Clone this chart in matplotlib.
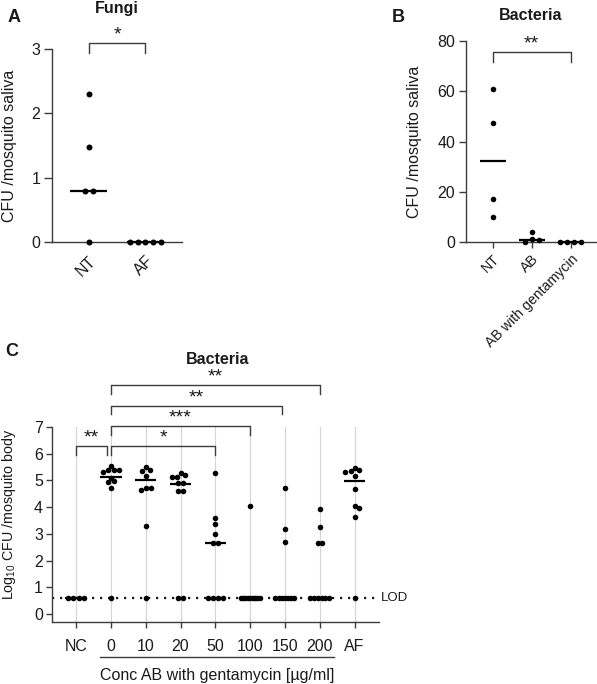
import matplotlib.pyplot as plt
import numpy as np

plt.rcParams["font.family"] = ["Liberation Sans", "DejaVu Sans"]
plt.rcParams["mathtext.fontset"] = "custom"
plt.rcParams["mathtext.rm"] = "Liberation Sans"

# --- data ---
FUNGI_GROUPS = ["NT", "AF"]
FUNGI_NT = [2.3, 1.47, 0.8, 0.8, 0.0]
FUNGI_AF = [0.0, 0.0, 0.0, 0.0, 0.0]
FUNGI_MEDIAN = [0.8, 0.0]

SALIVA_GROUPS = ["NT", "AB", "AB with gentamycin"]
SALIVA_NT = [61.0, 47.3, 17.1, 10.0]
SALIVA_AB = [4.1, 1.1, 0.8, 0.0]
SALIVA_ABG = [0.0, 0.0, 0.0, 0.0]
SALIVA_MEDIAN = [32.2, 0.9, 0.0]

LOD = 0.6
BODY_GROUPS = ["NC", "0", "10", "20", "50", "100", "150", "200", "AF"]
BODY_NC = [LOD] * 4
BODY_0 = [5.55, 5.40, 5.40, 5.38, 5.31, 5.10, 4.96, 4.93, 4.71, LOD]
BODY_10 = [5.50, 5.38, 5.36, 5.18, 4.73, 4.71, 4.64, 3.30, LOD]
BODY_20 = [5.27, 5.21, 5.12, 5.12, 4.92, 4.92, 4.62, 4.62, LOD, LOD]
BODY_50 = [5.27, 3.61, 3.37, 2.99, 2.67, 2.67, LOD, LOD, LOD, LOD]
BODY_100 = [4.03] + [LOD] * 9
BODY_150 = [4.73, 3.17, 2.70] + [LOD] * 7
BODY_200 = [3.92, 3.27, 2.67, 2.67] + [LOD] * 6
BODY_AF = [5.48, 5.39, 5.36, 5.33, 5.17, 4.67, 4.04, 3.96, 3.64, LOD]
BODY_MEDIAN = [LOD, 5.14, 5.0, 4.88, 2.67, LOD, LOD, LOD, 4.98]

INK = "#1a1a1a"
LINE = "#3c3c3c"


def swarm(values, px_per_unit, spacing, max_px):
    """Pixel x offsets for a dot column; equal values are laid out as a centred row."""
    vals = np.asarray(values, float)
    out = np.zeros(len(vals))
    placed = []
    for u in sorted(set(vals.tolist()), reverse=True):
        idx = np.where(vals == u)[0]
        row = (np.arange(len(idx)) - (len(idx) - 1) / 2) * spacing
        y = u * px_per_unit
        cands = [0.0]
        for px, py in placed:
            dy = abs(py - y)
            if dy < spacing:
                dx = np.sqrt(spacing**2 - dy**2)
                for r in row:
                    cands += [px + dx - r, px - dx - r]
        cands.sort(key=abs)
        for c in cands:
            if all(np.hypot(c + r - px, y - py) >= spacing - 1e-6 for r in row for px, py in placed):
                break
        for i, r in zip(idx, row):
            out[i] = c + r
            placed.append((c + r, y))
    m = np.abs(out).max()
    if m > max_px:
        out *= max_px / m
    return out


def dots(ax, groups, medians, ms, spacing, max_px, half_width):
    x0, x1 = ax.get_xlim()
    y0, y1 = ax.get_ylim()
    px_x = ax.bbox.width / (x1 - x0)
    px_y = ax.bbox.height / (y1 - y0)
    for i, vals in enumerate(groups):
        off = swarm(vals, px_y, spacing, max_px) / px_x
        ax.plot(i + off, vals, "o", ms=ms, color="black", mec="none", clip_on=False, zorder=4)
        ax.plot([i - half_width, i + half_width], [medians[i]] * 2, color="black", lw=1.6,
                solid_capstyle="butt", clip_on=False, zorder=3)


def bracket(ax, x1, x2, y, drop, text, fs=14):
    ax.plot([x1, x1, x2, x2], [y - drop, y, y, y - drop], color=LINE, lw=1.0, clip_on=False)
    ax.annotate(text, xy=((x1 + x2) / 2, y), xytext=(0, -0.5), textcoords="offset points",
                ha="center", va="bottom", fontsize=fs, color=INK, annotation_clip=False)


def style(ax, ylen):
    for side in ("top", "right"):
        ax.spines[side].set_visible(False)
    for side in ("left", "bottom"):
        ax.spines[side].set_color(LINE)
        ax.spines[side].set_linewidth(1.0)
    ax.tick_params(axis="y", length=ylen, width=1.0, color=LINE, labelsize=11.5, labelcolor=INK, pad=2.5)
    ax.tick_params(axis="x", length=4, width=1.0, color=LINE, labelsize=11.5, labelcolor=INK, pad=3)


W, H = 597, 684
fig = plt.figure(figsize=(W / 100, H / 100), dpi=100)


def rect(l, r, t, b):
    return [l / W, 1 - b / H, (r - l) / W, (b - t) / H]


# --- A: fungi ---
ax = fig.add_axes(rect(52.3, 182.3, 49, 242))
ax.set_xlim(-0.64, 1.65)
ax.set_ylim(0, 3)
ax.set_yticks([0, 1, 2, 3])
ax.set_xticks(range(len(FUNGI_GROUPS)))
ax.set_xticklabels(FUNGI_GROUPS, rotation=45, ha="right", va="top", rotation_mode="anchor")
style(ax, 6)
ax.tick_params(axis="x", length=0, pad=8)
ax.set_ylabel("CFU /mosquito saliva", fontsize=11.5, color=INK)
ax.yaxis.set_label_coords(-0.27, 0.5)
dots(ax, [FUNGI_NT, FUNGI_AF], FUNGI_MEDIAN, 4.3, 7.8, 20, 0.32)
bracket(ax, 0, 1, 3.09, 0.15, "*")
fig.text(117 / W, 1 - 1.5 / H, "Fungi", ha="center", va="top", fontsize=11.5, fontweight="bold", color=INK)
fig.text(14.5 / W, 1 - 17 / H, "A", ha="center", va="center", fontsize=13, fontweight="bold", color=INK)

# --- B: bacteria in saliva ---
ax = fig.add_axes(rect(465.7, 597.6, 41, 242))
ax.set_xlim(-0.69, 2.69)
ax.set_ylim(0, 80)
ax.set_yticks([0, 20, 40, 60, 80])
ax.set_xticks(range(len(SALIVA_GROUPS)))
ax.set_xticklabels(SALIVA_GROUPS, rotation=45, ha="right", va="top", rotation_mode="anchor")
style(ax, 5)
ax.tick_params(axis="x", labelsize=10.2)
ax.set_ylabel("CFU /mosquito saliva", fontsize=11.5, color=INK)
ax.yaxis.set_label_coords(-0.33, 0.5)
dots(ax, [SALIVA_NT, SALIVA_AB, SALIVA_ABG], SALIVA_MEDIAN, 4.0, 7.0, 20, 0.33)
bracket(ax, 0, 2, 75.8, 4.0, "**")
fig.text(531 / W, 1 - 15 / H, "Bacteria", ha="center", va="center", fontsize=11.5, fontweight="bold", color=INK)
fig.text(398 / W, 1 - 18 / H, "B", ha="center", va="center", fontsize=13, fontweight="bold", color=INK)

# --- C: bacteria in body vs antibiotic concentration ---
ax = fig.add_axes(rect(52, 379, 427, 622))
ax.set_xlim(-0.69, 8.7)
ax.set_ylim(-0.3, 7)
ax.set_yticks(range(8))
ax.set_xticks(range(len(BODY_GROUPS)))
ax.set_xticklabels(BODY_GROUPS)
style(ax, 4)
ax.tick_params(axis="x", pad=8)
ax.xaxis.grid(True, color="#d4d4d4", lw=0.8)
ax.set_axisbelow(True)
ax.set_ylabel(r"Log$_{\mathregular{10}}$ CFU /mosquito body", fontsize=10.3, color=INK)
ax.yaxis.set_label_coords(-0.105, 0.55)
ax.plot([-0.69, 8.68], [LOD, LOD], ls=(0, (1.0, 2.6)), lw=1.6, color=INK, zorder=2, clip_on=False)
ax.text(8.75, LOD, "LOD", ha="left", va="center", fontsize=9.5, color=INK, clip_on=False)
dots(ax, [BODY_NC, BODY_0, BODY_10, BODY_20, BODY_50, BODY_100, BODY_150, BODY_200, BODY_AF],
     BODY_MEDIAN, 4.0, 5.2, 9.5, 0.31)
bracket(ax, 0, 0.89, 6.3, 0.34, "**")
bracket(ax, 1, 4, 6.3, 0.34, "*")
bracket(ax, 1, 5, 7.03, 0.34, "***")
bracket(ax, 1, 5.92, 7.8, 0.3, "**")
bracket(ax, 1, 7, 8.58, 0.34, "**")
xt = ax.get_xaxis_transform()
ax.plot([0.69, 7.41], [-0.18, -0.18], transform=xt, color=LINE, lw=1.0, clip_on=False)
ax.text(4.05, -0.272, "Conc AB with gentamycin [µg/ml]", transform=xt, ha="center", va="center",
        fontsize=11.5, color=INK)
fig.text(218 / W, 1 - 359 / H, "Bacteria", ha="center", va="center", fontsize=11.5, fontweight="bold", color=INK)
fig.text(12 / W, 1 - 351 / H, "C", ha="center", va="center", fontsize=13, fontweight="bold", color=INK)

fig.savefig("out.png", dpi=100)
